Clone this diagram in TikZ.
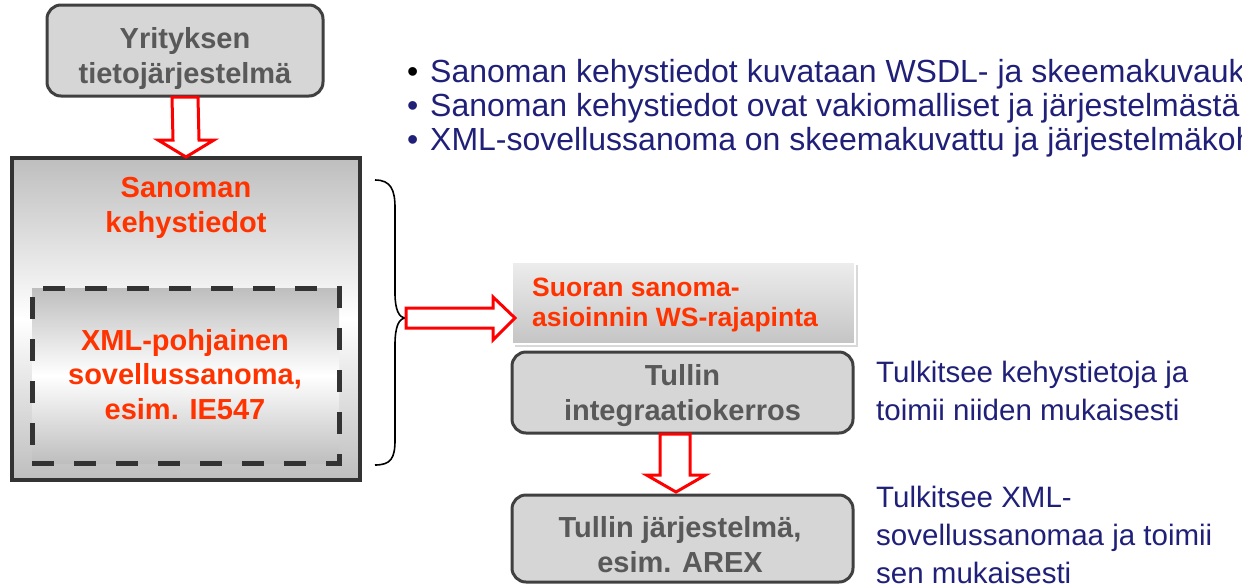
\documentclass[tikz,border=0pt]{standalone}
\usepackage{fontspec}
\setmainfont{Liberation Sans}
\usetikzlibrary{calc,shadows}
\definecolor{boxfill}{HTML}{D6D6D6}
\definecolor{boxline}{HTML}{404040}
\definecolor{boxtext}{HTML}{595959}
\definecolor{orred}{HTML}{FF3300}
\definecolor{txtnavy}{HTML}{202078}
\definecolor{shadegray}{HTML}{BEBEBE}
\definecolor{darkframe}{HTML}{333333}
\begin{document}
\begin{tikzpicture}[x=1pt,y=-1pt,
  rbox/.style={draw=boxline, line width=3pt, fill=boxfill, rounded corners=14pt, inner sep=0pt, outer sep=0pt},
  boxlabel/.style={text=boxtext, align=center, inner sep=0pt, anchor=north, font={\fontsize{29}{35}\selectfont\bfseries}},
  redlabel/.style={text=orred, align=center, inner sep=0pt, anchor=north, font={\fontsize{29}{34.5}\selectfont\bfseries}},
  navylabel/.style={text=txtnavy, align=left, inner sep=0pt, anchor=north west, font={\fontsize{29.5}{38}\selectfont}},
  bullettext/.style={text=txtnavy, inner sep=0pt, anchor=base west, font={\fontsize{32}{34}\selectfont}},
  bulletdot/.style={inner sep=0pt, anchor=base west, font={\fontsize{32}{34}\selectfont}},
  blockarrow/.style={draw=red, line width=3pt, fill=white, line join=miter},
]
\useasboundingbox (0,0) rectangle (1242,587);
\clip (0,0) rectangle (1242,587);

% boxes
\node[rbox, minimum width=276pt, minimum height=91pt] (yrit) at (185,50.5) {};
\node[draw=darkframe, line width=4pt, top color=shadegray, bottom color=shadegray, middle color=white,
      minimum width=348pt, minimum height=322pt, inner sep=0pt, outer sep=0pt] (big) at (186,319) {};
\node[draw=darkframe, line width=5pt, dash pattern=on 22pt off 20pt, top color=shadegray, bottom color=shadegray, middle color=white,
      minimum width=307pt, minimum height=175pt, inner sep=0pt, outer sep=0pt] (inner) at (185.5,375.5) {};
\node[draw=white, line width=2pt, top color={rgb,255:red,237;green,237;blue,237}, bottom color={rgb,255:red,196;green,196;blue,196},
      drop shadow={shadow xshift=2.5pt, shadow yshift=-2.5pt, opacity=0.3},
      minimum width=343pt, minimum height=82pt, inner sep=0pt, outer sep=0pt] (ws) at (683.5,303) {};
\node[rbox, minimum width=341pt, minimum height=81pt] (tint) at (682.5,392.5) {};
\node[rbox, minimum width=341pt, minimum height=87pt] (tjar) at (682.5,538.5) {};

% texts in boxes
\node[boxlabel] (yritt) at (185,27.2) {Yrityksen\\tietojärjestelmä};
\node[redlabel] (kehys) at (186,177.2) {Sanoman\\kehystiedot};
\node[redlabel] (xmlt) at (185,329.2) {XML-pohjainen\\sovellussanoma,\\esim. IE547};
\node[text=orred, align=left, inner sep=0pt, anchor=north west, font={\fontsize{26.5}{30}\selectfont\bfseries}] (wst) at (532,278) {Suoran sanoma-\\asioinnin WS-rajapinta};
\node[boxlabel] (tintt) at (682.5,364.2) {Tullin\\integraatiokerros};
\node[boxlabel] (tjart) at (680,516.2) {Tullin järjestelmä,\\esim. AREX};

% right-side texts
\node[navylabel] (r1) at (876,360.9) {Tulkitsee kehystietoja ja\\toimii niiden mukaisesti};
\node[navylabel] (r2) at (876,485.9) {Tulkitsee XML-\\sovellussanomaa ja toimii\\sen mukaisesti};

% bullets
\node[bulletdot, text=black] (d1) at (407,82) {•};
\node[bulletdot, text=txtnavy] (d2) at (407,116) {•};
\node[bulletdot, text=txtnavy] (d3) at (407,150) {•};
\node[bullettext] (b1) at (430,82) {Sanoman kehystiedot kuvataan WSDL- ja skeemakuvauk};
\node[bullettext] (b2) at (430,116) {Sanoman kehystiedot ovat vakiomalliset ja järjestelmästä};
\node[bullettext] (b3) at (430,150) {XML-sovellussanoma on skeemakuvattu ja järjestelmäkoh};

% brace
\coordinate (bTop) at (375,180);
\coordinate (bBot) at (375,465);
\coordinate (bt) at (406,318);
\draw[line width=1.6pt, black] (bTop) .. controls (391,180) and (395,190) .. (395,208) -- (395,293)
  .. controls (395,310) and (399,318) .. (bt)
  .. controls (399,318) and (395,326) .. (395,345) -- (395,440)
  .. controls (395,458) and (391,465) .. (bBot);

% block arrows
\draw[blockarrow] ($(yrit.south)+(-13,1)$) -- ($(yrit.south)+(13,1)$) -- ($(big.north)+(13,-18)$)
  -- ($(big.north)+(28,-18)$) -- ($(big.north)+(0,-1)$) -- ($(big.north)+(-28,-18)$)
  -- ($(big.north)+(-13,-18)$) -- cycle;
\draw[blockarrow] ($(bt)+(0,-10)$) -- ($(ws.west)+(-19,5)$) -- ($(ws.west)+(-19,-6)$)
  -- ($(ws.west)+(3,15)$) -- ($(ws.west)+(-19,37)$) -- ($(ws.west)+(-19,25)$)
  -- ($(bt)+(0,10)$) -- cycle;
\draw[blockarrow] ($(tint.south)+(-22.5,1)$) -- ($(tint.south)+(7.5,1)$) -- ($(tjar.north)+(7.5,-20)$)
  -- ($(tjar.north)+(23,-20)$) -- ($(tjar.north)+(-6.5,-3)$) -- ($(tjar.north)+(-36,-20)$)
  -- ($(tjar.north)+(-22.5,-20)$) -- cycle;
\end{tikzpicture}
\end{document}
